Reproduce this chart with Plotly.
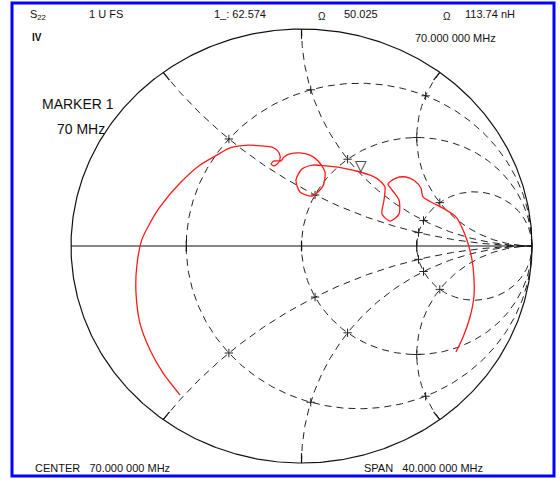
import numpy as np
import plotly.graph_objects as go

# ---------------- data ----------------
# S22 locus, reflection coefficient (real, imag), 50 MHz -> 90 MHz
s22_re = [-0.527, -0.601, -0.657, -0.701, -0.718, -0.715, -0.693, -0.657, -0.614, -0.527,
          -0.440, -0.367, -0.310, -0.232, -0.171, -0.128, -0.106, -0.093, -0.098, -0.119,
          -0.132, -0.119, -0.089, -0.076, -0.050, -0.007, 0.037, 0.072, 0.102, 0.093,
          0.046, -0.007, -0.024, 0.002, 0.050, 0.106, 0.180, 0.254, 0.306, 0.341,
          0.362, 0.358, 0.349, 0.384, 0.423, 0.423, 0.393, 0.375, 0.410, 0.453,
          0.492, 0.518, 0.527, 0.562, 0.627, 0.670, 0.701, 0.722, 0.740, 0.748,
          0.748, 0.731, 0.701, 0.670]
s22_im = [-0.687, -0.585, -0.479, -0.355, -0.217, -0.097, 0.028, 0.106, 0.180, 0.290,
          0.373, 0.419, 0.452, 0.465, 0.461, 0.456, 0.442, 0.415, 0.387, 0.369,
          0.378, 0.392, 0.392, 0.410, 0.424, 0.429, 0.419, 0.392, 0.341, 0.276,
          0.230, 0.249, 0.304, 0.355, 0.373, 0.369, 0.359, 0.341, 0.323, 0.300,
          0.272, 0.212, 0.147, 0.115, 0.147, 0.212, 0.258, 0.286, 0.313, 0.318,
          0.300, 0.267, 0.226, 0.203, 0.166, 0.134, 0.074, 0.014, -0.065, -0.143,
          -0.235, -0.327, -0.419, -0.488]

# marker 1 readout (ohms), reference impedance
marker_R = 62.574
marker_X = 50.025
Z0 = 50.0

# Smith grid values
r_values = [1/3, 1, 3]
x_values = [0.5, 1, 2, -0.5, -1, -2]

# ---------------- layout geometry ----------------
W, H = 560, 484
CX, CY, RX, RY = 301.5, 246.0, 230.5, 217.0
xr = [(0 - CX) / RX, (W - CX) / RX]
yr = [(CY - H) / RY, CY / RY]

def px(x):
    return x / W

def py(y):
    return 1 - y / H

def gam(z):
    return (z - 1) / (z + 1)

fig = go.Figure()
GRID = "#222222"
DASH = "7px,5px"

# resistance circles
for r in r_values:
    t = np.linspace(0, 2 * np.pi, 400)
    c = r / (1 + r)
    rad = 1 / (1 + r)
    fig.add_trace(go.Scatter(x=c + rad * np.cos(t), y=rad * np.sin(t), mode="lines",
                             line=dict(color=GRID, width=1, dash=DASH),
                             hoverinfo="skip", showlegend=False))
# reactance arcs
rr = np.concatenate([np.linspace(0, 1, 200), np.logspace(0, 3.5, 300)])
for xv in x_values:
    g = gam(rr + 1j * xv)
    fig.add_trace(go.Scatter(x=g.real, y=g.imag, mode="lines",
                             line=dict(color=GRID, width=1, dash=DASH),
                             hoverinfo="skip", showlegend=False))

# outer circle and real axis
t = np.linspace(0, 2 * np.pi, 600)
fig.add_trace(go.Scatter(x=np.cos(t), y=np.sin(t), mode="lines",
                         line=dict(color="#111111", width=1.2),
                         hoverinfo="skip", showlegend=False))
fig.add_trace(go.Scatter(x=[-1, 1], y=[0, 0], mode="lines",
                         line=dict(color="#111111", width=1.2),
                         hoverinfo="skip", showlegend=False))

# ticks at grid intersections
ix, iy = [], []
for r in r_values:
    for xv in x_values:
        g = gam(r + 1j * xv)
        ix.append(g.real)
        iy.append(g.imag)
fig.add_trace(go.Scatter(x=ix, y=iy, mode="markers",
                         marker=dict(symbol="cross-thin", size=6,
                                     line=dict(color=GRID, width=1)),
                         hoverinfo="skip", showlegend=False))
# ticks on real axis and at rim
tx, ty = [], []
for r in r_values:
    g = gam(r)
    tx += [g.real, g.real, None]
    ty += [-0.025, 0.025, None]
for xv in x_values:
    g = gam(1j * xv)
    tx += [g.real, 0.955 * g.real, None]
    ty += [g.imag, 0.955 * g.imag, None]
fig.add_trace(go.Scatter(x=tx, y=ty, mode="lines",
                         line=dict(color="#111111", width=1.2),
                         hoverinfo="skip", showlegend=False))

# S22 trace
fig.add_trace(go.Scatter(x=s22_re, y=s22_im, mode="lines",
                         line=dict(color="#ff1a1a", width=1.3, shape="spline", smoothing=0.7),
                         hoverinfo="skip", showlegend=False))

# marker 1
zm = (marker_R + 1j * marker_X) / Z0
gm = gam(zm)

FONT = "Liberation Sans, Arial, sans-serif"
ann = []

def txt(x, y, s, size=11, xanchor="left"):
    ann.append(dict(x=px(x), y=py(y), xref="paper", yref="paper", text=s,
                    showarrow=False, xanchor=xanchor, yanchor="middle",
                    font=dict(family=FONT, size=size, color="#111111")))

ann.append(dict(x=gm.real, y=gm.imag, xref="x", yref="y", text="▽", showarrow=False,
                xanchor="center", yanchor="bottom", yshift=-3,
                font=dict(family="DejaVu Sans", size=15, color="#222222")))

txt(28, 15, "S<sub>22</sub>", 11)
txt(87, 14, "1 U FS", 11)
txt(212, 14, "1_: 62.574", 11)
txt(316, 16, "Ω", 10)
txt(342, 14, "50.025", 11)
txt(441, 16, "Ω", 10)
txt(463, 14, "113.74 nH", 11)
txt(30, 38, "<b>IV</b>", 10)
txt(413, 38, "70.000 000 MHz", 11)
txt(40, 104, "MARKER 1", 14)
txt(55, 129, "70 MHz", 14)
txt(33, 468, "CENTER   70.000 000 MHz", 11)
txt(362, 468, "SPAN   40.000 000 MHz", 11)

shapes = [dict(type="rect", xref="paper", yref="paper",
               x0=px(12), x1=px(554), y0=py(476), y1=py(3),
               line=dict(color="#0000ff", width=3))]

fig.update_layout(width=W, height=H, margin=dict(l=0, r=0, t=0, b=0),
                  paper_bgcolor="white", plot_bgcolor="white",
                  xaxis=dict(range=xr, visible=False, fixedrange=True),
                  yaxis=dict(range=yr, visible=False, fixedrange=True),
                  annotations=ann, shapes=shapes, showlegend=False,
                  hovermode=False)

fig.write_html("out.html", config={"displayModeBar": False, "staticPlot": True},
               post_script="document.body.style.margin='0';document.body.style.overflow='hidden';")
